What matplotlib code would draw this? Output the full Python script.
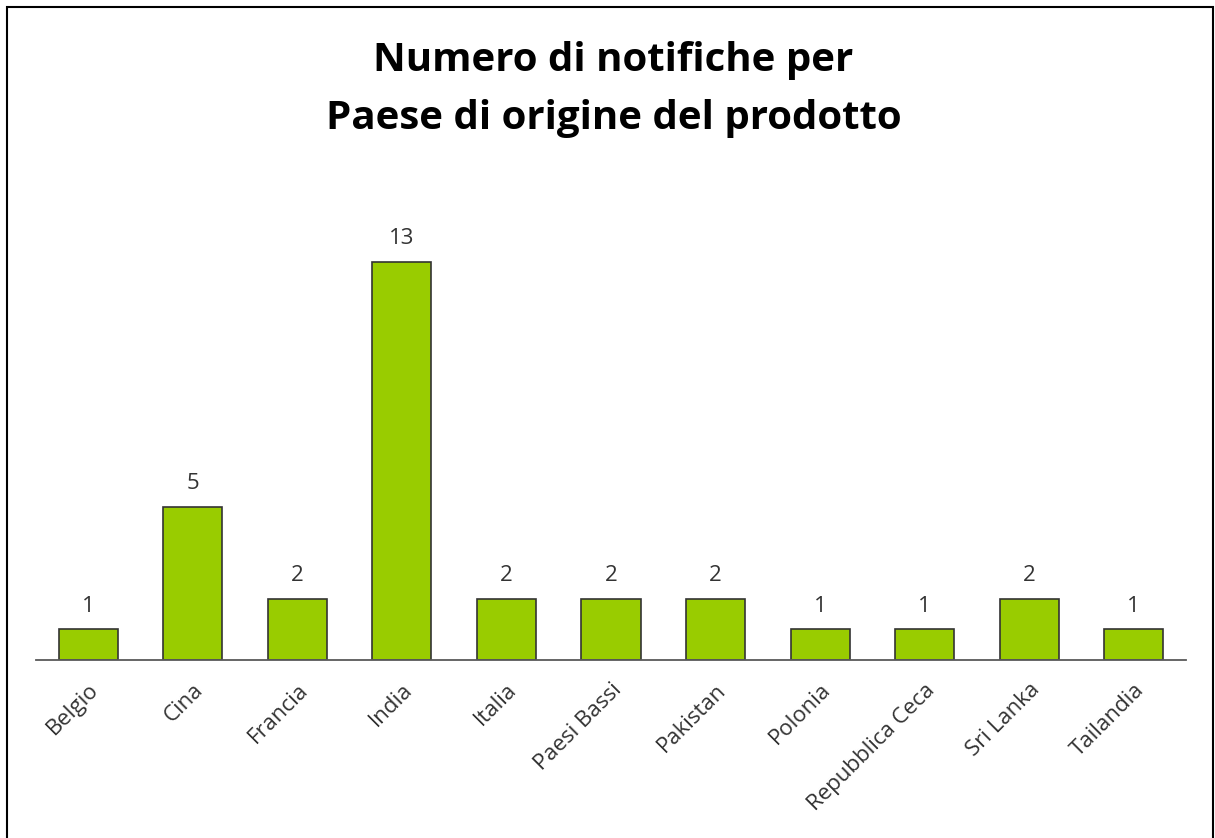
import matplotlib.pyplot as plt
from matplotlib.patches import Rectangle

paesi = ['Belgio', 'Cina', 'Francia', 'India', 'Italia', 'Paesi Bassi',
         'Pakistan', 'Polonia', 'Repubblica Ceca', 'Sri Lanka', 'Tailandia']
notifiche = [1, 5, 2, 13, 2, 2, 2, 1, 1, 2, 1]

plt.rcParams['font.family'] = ['Open Sans', 'DejaVu Sans']

fig = plt.figure(figsize=(12.15, 8.38), dpi=100)
ax = fig.add_axes([36 / 1215, 1 - 660 / 838, 1150 / 1215, 490 / 838])

x = range(len(paesi))
bars = ax.bar(x, notifiche, width=0.565, color='#99cc00',
              edgecolor='#333333', linewidth=1.2)

for b, v in zip(bars, notifiche):
    ax.text(b.get_x() + b.get_width() / 2, v + 0.42, str(v),
            ha='center', va='bottom', fontsize=16, color='#333333')

ax.set_xlim(-0.5, len(paesi) - 0.5)
ax.set_ylim(0, 16)
ax.set_xticks(list(x))
ax.set_xticklabels(paesi, rotation=45, ha='right', rotation_mode='anchor',
                   fontsize=16, color='#333333')
ax.tick_params(axis='x', length=0, pad=14)
ax.set_yticks([])
for s in ['top', 'right', 'left']:
    ax.spines[s].set_visible(False)
ax.spines['bottom'].set_color('#595959')
ax.spines['bottom'].set_linewidth(1.3)

fig.text(0.505, 1 - 61 / 838, 'Numero di notifiche per', ha='center',
         va='center', fontsize=29, fontweight='bold', color='black')
fig.text(0.505, 1 - 119 / 838, 'Paese di origine del prodotto', ha='center',
         va='center', fontsize=29, fontweight='bold', color='black')

# cornice del grafico
fig.patches.append(Rectangle((7 / 1215, -0.05), 1206 / 1215, 1.05 - 7 / 838,
                             transform=fig.transFigure, fill=False,
                             edgecolor='black', linewidth=1.5))

fig.savefig('out.png', dpi=100)
